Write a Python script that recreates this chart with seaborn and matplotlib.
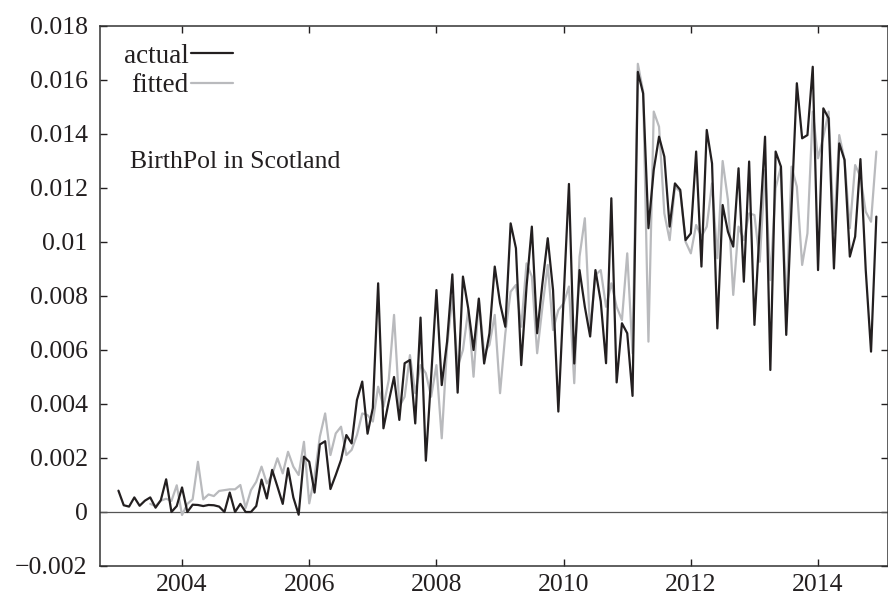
import numpy as np
import pandas as pd
import seaborn as sns
from matplotlib import pyplot as plt
from matplotlib.lines import Line2D

# monthly series, Jan 2003 - Dec 2014 (values in units of 1/1000)
start_year = 2003
actual = [
    0.79, 0.25, 0.20, 0.54, 0.23, 0.42, 0.54, 0.16, 0.44, 1.21, 0.00, 0.22,
    0.91, 0.00, 0.27, 0.26, 0.22, 0.26, 0.25, 0.20, 0.00, 0.72, 0.00, 0.30,
    0.00, 0.00, 0.22, 1.20, 0.50, 1.56, 0.94, 0.30, 1.62, 0.54, -0.10, 2.05,
    1.86, 0.72, 2.50, 2.62, 0.85, 1.37, 1.93, 2.85, 2.54, 4.15, 4.83, 2.90,
    3.85, 8.47, 3.10, 4.09, 5.00, 3.41, 5.51, 5.63, 3.28, 7.20, 1.90, 5.00,
    8.22, 4.70, 6.30, 8.80, 4.42, 8.72, 7.54, 6.00, 7.90, 5.50, 6.62, 9.09,
    7.73, 6.86, 10.69, 9.77, 5.44, 8.35, 10.57, 6.62, 8.47, 10.14, 8.22, 3.72,
    7.90, 12.15, 5.50, 8.96, 7.60, 6.50, 8.96, 7.80, 5.51, 11.62, 4.80, 6.99,
    6.62, 4.30, 16.30, 15.50, 10.51, 12.67, 13.90, 13.16, 10.57, 12.17, 11.93, 10.07,
    10.32, 13.35, 9.09, 14.15, 12.91, 6.80, 11.37, 10.38, 9.83, 12.73, 8.53, 12.98,
    6.93, 10.57, 13.90, 5.26, 13.35, 12.79, 6.56, 11.31, 15.88, 13.84, 13.96, 16.49,
    8.96, 14.95, 14.58, 9.02, 13.65, 13.04, 9.46, 10.20, 13.07, 8.96, 5.94, 10.94,
]
fitted = [
    np.nan, np.nan, np.nan, np.nan, np.nan, np.nan, 0.30, 0.22, 0.42, 0.49, 0.41, 0.99,
    -0.11, 0.30, 0.47, 1.86, 0.47, 0.65, 0.59, 0.78, 0.81, 0.84, 0.84, 1.00,
    0.15, 0.81, 1.12, 1.68, 1.06, 1.37, 1.99, 1.43, 2.23, 1.68, 1.37, 2.60,
    0.32, 1.31, 2.79, 3.65, 2.11, 2.91, 3.16, 2.11, 2.30, 2.85, 3.65, 3.59,
    3.35, 4.64, 3.90, 4.89, 7.30, 3.90, 4.27, 5.81, 4.40, 5.44, 5.14, 4.27,
    5.44, 2.73, 6.12, 7.97, 5.38, 6.00, 7.48, 5.01, 7.91, 5.88, 6.19, 7.30,
    4.40, 6.62, 8.16, 8.41, 6.86, 9.21, 8.72, 5.88, 7.60, 9.15, 6.74, 7.48,
    7.73, 8.35, 4.77, 9.46, 10.88, 6.68, 8.78, 8.96, 7.60, 8.47, 7.60, 7.11,
    9.58, 5.88, 16.60, 15.57, 6.31, 14.83, 14.27, 11.06, 10.07, 12.05, 11.86, 10.01,
    9.58, 10.63, 10.20, 10.57, 12.17, 9.40, 13.00, 11.56, 8.04, 10.57, 10.07, 11.06,
    11.00, 9.27, 12.67, 8.59, 12.00, 12.79, 7.48, 12.79, 12.05, 9.15, 10.32, 14.83,
    13.10, 13.90, 14.83, 10.32, 13.96, 13.04, 10.51, 12.85, 12.42, 11.12, 10.75, 13.35,
]
series_names = ["actual", "fitted"]
series_colors = {"actual": "#231f20", "fitted": "#b9babd"}
xtick_years = [2004, 2006, 2008, 2010, 2012, 2014]
ytick_values = [-0.002, 0, 0.002, 0.004, 0.006, 0.008, 0.01, 0.012, 0.014, 0.016, 0.018]
ytick_labels = ["\u22120.002", "0", "0.002", "0.004", "0.006", "0.008", "0.01",
                "0.012", "0.014", "0.016", "0.018"]
note = "BirthPol in Scotland"

sns.set_style("ticks")
plt.rcParams["font.family"] = ["Liberation Serif", "DejaVu Serif"]
plt.rcParams["font.size"] = 18.5
plt.rcParams["text.color"] = "#231f20"

year = start_year + np.arange(len(actual)) / 12
df = pd.DataFrame({"year": year,
                   "actual": np.array(actual) / 1000,
                   "fitted": np.array(fitted) / 1000})
long = df.melt(id_vars="year", var_name="series", value_name="value").dropna()

fig = plt.figure(figsize=(8.88, 5.96), dpi=100)
ax = fig.add_axes([100 / 888, 30 / 596, 788 / 888, 540 / 596])

ax.axhline(0, color="#555555", lw=0.9, zorder=1)
sns.lineplot(data=long, x="year", y="value", hue="series",
             hue_order=["fitted", "actual"], palette=series_colors,
             estimator=None, lw=1.6, legend=False, ax=ax)

ax.set_xlim(2002.71, 2015.10)
ax.set_ylim(-0.002, 0.018)
ax.set_xticks(xtick_years)
ax.set_yticks(ytick_values, ytick_labels)
ax.set_xlabel("")
ax.set_ylabel("")
ax.tick_params(direction="in", top=True, right=True, length=5, width=1,
               colors="#231f20", labelsize=18.5)
ax.tick_params(axis="y", pad=9)
ax.tick_params(axis="x", pad=6)
for s in ax.spines.values():
    s.set_color("#333333")
    s.set_linewidth(1.1)

handles = [Line2D([], [], color=series_colors[n], lw=1.6) for n in series_names]
ax.legend(handles, series_names, loc="upper left", bbox_to_anchor=(0.030, 0.967),
          markerfirst=False, frameon=False, handlelength=1.55, handletextpad=0.1,
          labelspacing=0.17, borderpad=0, borderaxespad=0, fontsize=19.5)
ax.text(0.038, 0.748, note, transform=ax.transAxes, va="center", ha="left")

fig.savefig("out.png", dpi=100)
